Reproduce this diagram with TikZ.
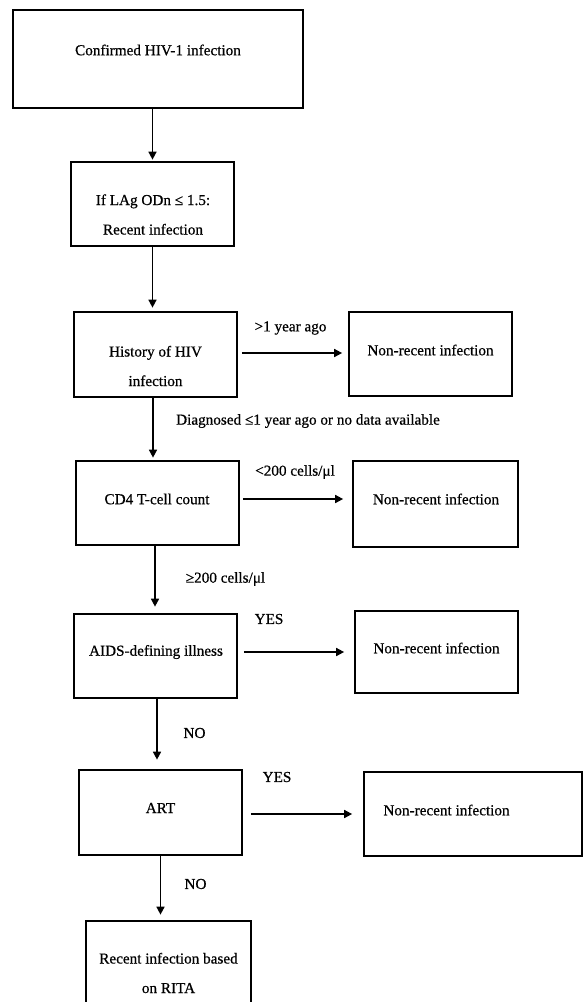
\documentclass[tikz,border=0pt]{standalone}
\usepackage{fontspec}
\setmainfont{Liberation Serif}
\newfontfamily\heavyfont{Liberation Serif}[FakeBold=0.6]
\usetikzlibrary{arrows.meta}
\begin{document}
\begin{tikzpicture}[x=1pt,y=-1pt,
  box/.style={draw, line width=1.7pt, inner sep=0pt},
  txt/.style={font=\heavyfont\fontsize{15.2}{29.5}\selectfont, inner sep=0pt, align=center},
  arr/.style={line width=1.6pt, -{Triangle[width=8pt,length=8pt]}}]
\useasboundingbox (0,0) rectangle (583,1002);
\clip (0,0) rectangle (583,1002);
% boxes
\node[box, minimum width=290pt, minimum height=98pt] (b1) at (158,59) {};
\node[box, minimum width=163pt, minimum height=84pt] (b2) at (152.5,204) {};
\node[box, minimum width=163pt, minimum height=85pt] (b3) at (155.5,354.5) {};
\node[box, minimum width=163pt, minimum height=84pt] (r3) at (430.5,354) {};
\node[box, minimum width=163pt, minimum height=84pt] (b4) at (157.5,503) {};
\node[box, minimum width=165pt, minimum height=86pt] (r4) at (435.5,504) {};
\node[box, minimum width=163pt, minimum height=84pt] (b5) at (155.5,656) {};
\node[box, minimum width=163pt, minimum height=82pt] (r5) at (436.5,652) {};
\node[box, minimum width=163pt, minimum height=85pt] (b6) at (160.5,812.5) {};
\node[box, minimum width=218pt, minimum height=84pt] (r6) at (473,814) {};
\node[box, minimum width=165pt, minimum height=110pt] (b7) at (168.5,976) {};
% box texts
\node[txt] (t1) at (158,50) {Confirmed HIV-1 infection};
\node[txt] (t2) at (153,214.5) {If LAg ODn ≤ 1.5:\\Recent infection};
\node[txt] (t3) at (155.5,366) {History of HIV\\infection};
\node[txt] (tr3) at (430.5,350) {Non-recent infection};
\node[txt] (t4) at (157,499) {CD4 T-cell count};
\node[txt] (tr4) at (436,499) {Non-recent infection};
\node[txt] (t5) at (156,652) {AIDS-defining illness};
\node[txt] (tr5) at (436.5,648) {Non-recent infection};
\node[txt] (t6) at (160.5,808) {ART};
\node[txt] (tr6) at (446.5,810) {Non-recent infection};
\node[txt] (t7) at (168.5,973) {Recent infection based\\on RITA};
% edge labels
\node[txt] (l3) at (290.5,328) {>1 year ago};
\node[txt] (l3d) at (308,421) {Diagnosed ≤1 year ago or no data available};
\node[txt] (l4) at (295,472) {<200 cells/μl};
\node[txt] (l4d) at (225.5,579) {≥200 cells/μl};
\node[txt] (l5) at (269,619) {YES};
\node[txt] (l5d) at (194.5,733) {NO};
\node[txt] (l6) at (277,777) {YES};
\node[txt] (l6d) at (195.5,884) {NO};
% vertical arrows
\draw[arr, shorten >=1.5pt] (b1.south -| b2.north) -- (b2.north);
\draw[arr, shorten >=3.5pt] (b2.south) -- (b2.south |- b3.north);
\draw[arr, shorten >=2.5pt] ([xshift=-2.5pt]b3.south) -- ([xshift=-2.5pt]b3.south |- b4.north);
\draw[arr, shorten >=6.5pt] ([xshift=-2.5pt]b4.south) -- ([xshift=-2.5pt]b4.south |- b5.north);
\draw[arr, shorten >=9.5pt] ([xshift=1.5pt]b5.south) -- ([xshift=1.5pt]b5.south |- b6.north);
\draw[arr, shorten >=5.5pt] (b6.south) -- (b6.south |- b7.north);
% horizontal arrows
\draw[arr, shorten <=4pt, shorten >=6pt] ([yshift=1.5pt]b3.east) -- ([yshift=1.5pt]b3.east -| r3.west);
\draw[arr, shorten <=3pt, shorten >=9pt] ([yshift=4pt]b4.east) -- ([yshift=4pt]b4.east -| r4.west);
\draw[arr, shorten <=6pt, shorten >=10pt] ([yshift=4pt]b5.east) -- ([yshift=4pt]b5.east -| r5.west);
\draw[arr, shorten <=8pt, shorten >=11pt] ([yshift=-1.5pt]b6.east) -- ([yshift=-1.5pt]b6.east -| r6.west);
\end{tikzpicture}
\end{document}
